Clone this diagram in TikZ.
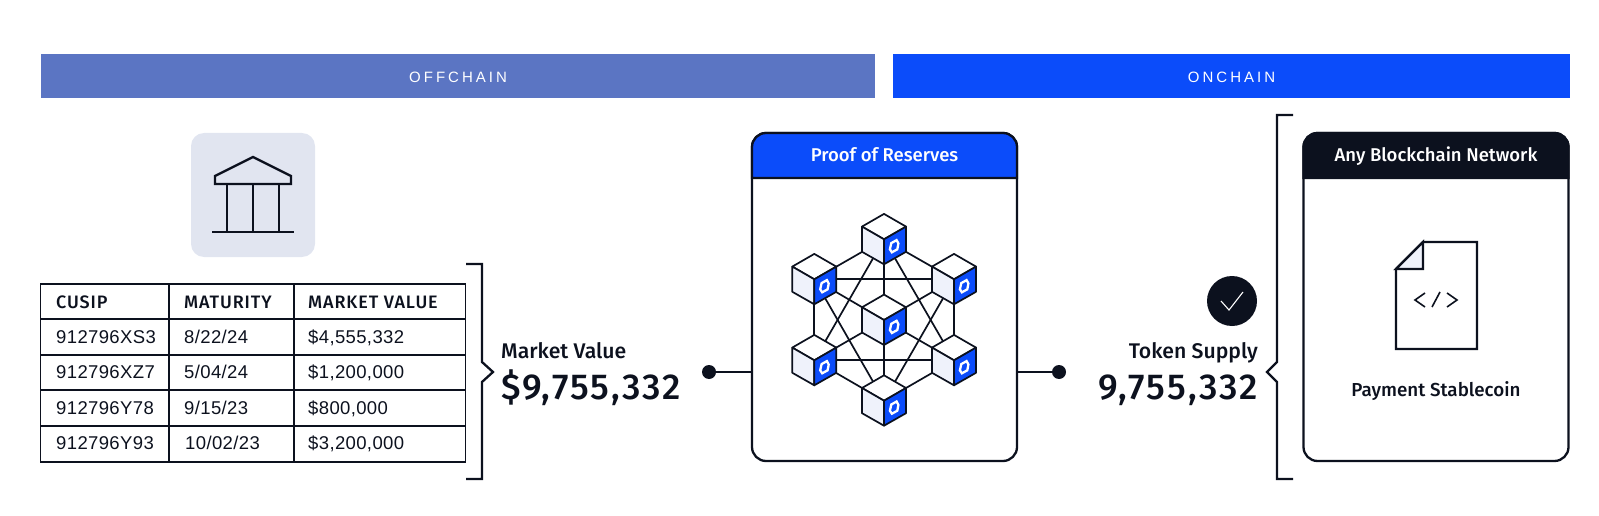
\documentclass[tikz,border=0pt]{standalone}
\usepackage{fontspec}
\setmainfont{Liberation Sans}
\newfontfamily\medfont{Fira Sans Medium}
\newfontfamily\headfont[LetterSpace=5]{Fira Sans Medium}
\newfontfamily\amountfont[LetterSpace=5.5]{Fira Sans Medium}
\newfontfamily\cellfont[LetterSpace=2]{Liberation Sans}
\newfontfamily\barfont[LetterSpace=20]{Liberation Sans}
\definecolor{chainblue}{HTML}{0B4CFA}
\definecolor{inkdark}{HTML}{0C111E}
\definecolor{offblue}{HTML}{5B75C3}
\definecolor{iconbg}{HTML}{E1E5F0}
\definecolor{facepale}{HTML}{EFF2FB}
\tikzset{
  bar/.style      = {rectangle, minimum height=44pt, inner sep=0pt, text height=12.8pt, text depth=0pt, text=white, font=\barfont\fontsize{15}{18}\selectfont},
  cardbox/.style  = {rectangle, line, fill=white, rounded corners=14pt, minimum width=265pt, minimum height=328pt, inner sep=0pt},
  cardhead/.style = {anchor=base, text=white, font=\medfont\fontsize{18.5}{22}\selectfont},
  cell/.style     = {anchor=base west, inner sep=0pt, text=inkdark, font=\cellfont\fontsize{18.5}{22}\selectfont},
  headcell/.style = {anchor=base west, inner sep=0pt, text=inkdark, font=\headfont\fontsize{18}{22}\selectfont},
  caption/.style  = {inner sep=0pt, text=inkdark, font=\medfont\fontsize{21.2}{24}\selectfont},
  amount/.style   = {inner sep=0pt, text=inkdark, font=\amountfont\fontsize{36}{40}\selectfont},
  dot/.style      = {circle, fill=inkdark, minimum size=14pt, inner sep=0pt},
  line/.style     = {draw=inkdark, line width=2.3pt},
  thin/.style     = {draw=inkdark, line width=1.6pt},
  cubeline/.style = {draw=inkdark, line width=1.7pt, line join=round},
}
\newcommand{\blockcube}[1]{
  \begin{scope}[shift={(#1)}]
    \filldraw[cubeline, fill=white] (0,0) -- (-22,-12.7) -- (0,-25.4) -- (22,-12.7) -- cycle;
    \filldraw[cubeline, fill=facepale] (0,0) -- (-22,-12.7) -- (-22,12.5) -- (0,25) -- cycle;
    \filldraw[cubeline, fill=chainblue] (0,0) -- (22,-12.7) -- (22,12.5) -- (0,25) -- cycle;
    \draw[white, line width=2.3pt, line join=miter]
      (12.6,0.8) -- (14.4,4.2) -- (13.3,10) -- (7.9,13) -- (5.9,10) -- (7.3,3.8) -- cycle;
  \end{scope}
}
\begin{document}
\begin{tikzpicture}[x=1pt, y=-1pt]
  \useasboundingbox (0,0) rectangle (1599,516);

  % top bars
  \node [bar, fill=offblue, minimum width=834pt] (offbar) at (458,76) {OFFCHAIN};
  \node [bar, fill=chainblue, minimum width=676.5pt] (onbar) at (1231.5,76) {ONCHAIN};

  % bank icon
  \node [rectangle, fill=iconbg, rounded corners=13pt, minimum size=124pt] (bankbox) at (253,195) {};
  \draw [line, line join=miter] (215,184) -- (215,176) -- (253,157) -- (291,176) -- (291,184) -- cycle;
  \draw [line] (212,232) -- (294,232);
  \foreach \colx in {227,253,279}
    \draw [line] (\colx,184) -- (\colx,232);

  % table
  \draw [thin] (40.5,284) rectangle (465.5,462);
  \foreach \rowy in {319,355,390,426}
    \draw [thin] (40.5,\rowy) -- (465.5,\rowy);
  \foreach \colx in {169,294}
    \draw [thin] (\colx,284) -- (\colx,462);
  \node [headcell] (headcusip) at (56,308) {CUSIP};
  \node [headcell] (headmat) at (184,308) {MATURITY};
  \node [headcell] (headval) at (308,308) {MARKET VALUE};
  \node [cell] (cusipa) at (56,343) {912796XS3};
  \node [cell] (mata)   at (184,343) {8/22/24};
  \node [cell] (vala)   at (308,343) {\$4,555,332};
  \node [cell] (cusipb) at (56,378) {912796XZ7};
  \node [cell] (matb)   at (184,378) {5/04/24};
  \node [cell] (valb)   at (308,378) {\$1,200,000};
  \node [cell] (cusipc) at (56,414) {912796Y78};
  \node [cell] (matc)   at (184,414) {9/15/23};
  \node [cell] (valc)   at (308,414) {\$800,000};
  \node [cell] (cusipd) at (56,449) {912796Y93};
  \node [cell] (matd)   at (185,449) {10/02/23};
  \node [cell] (vald)   at (308,449) {\$3,200,000};

  % left bracket
  \draw [line, line join=miter] (466,264) -- (482,264) -- (482,362) -- (493,372) -- (482,382) -- (482,479) -- (466,479);

  % market value
  \node [caption, anchor=base west] (marketlabel) at (501,358) {Market Value};
  \node [amount, anchor=base west] (marketamount) at (501,399) {\$9,755,332};

  % proof of reserves card
  \node [cardbox] (reservecard) at (884.5,297) {};
  \filldraw [line, fill=chainblue] (752,178) -- (752,147) arc[start angle=180, end angle=270, radius=14] -- (1003,133) arc[start angle=270, end angle=360, radius=14] -- (1017,178) -- cycle;
  \node [cardhead] (reservehead) at (884.5,162) {Proof of Reserves};

  % network
  \coordinate (ctop) at (884,239.3);
  \coordinate (cul)  at (814.3,279.3);
  \coordinate (cur)  at (954,279.3);
  \coordinate (cmid) at (884,320);
  \coordinate (cll)  at (814.3,360.3);
  \coordinate (clr)  at (954,360.3);
  \coordinate (cbot) at (884,400.7);
  \foreach \p/\q in {ctop/cul, ctop/cur, cul/cll, cur/clr, cll/cbot, clr/cbot, ctop/cmid, cbot/cmid, cul/cmid, cur/cmid, cll/cmid, clr/cmid, cul/cur, cll/clr, ctop/cll, ctop/clr, cul/cbot, cur/cbot}
    \draw [cubeline] (\p) -- (\q);
  \foreach \cubename in {ctop, cul, cur, cmid, cll, clr, cbot}
    {\blockcube{\cubename}}

  % connectors
  \node [dot] (dotleft) at (709,372) {};
  \node [dot] (dotright) at (1059,372) {};
  \draw [line] (dotleft) -- (reservecard.west |- dotleft);
  \draw [line] (reservecard.east |- dotright) -- (dotright);

  % token supply
  \node [circle, fill=inkdark, minimum size=50pt, inner sep=0pt] (checkdisc) at (1232,301) {};
  \draw [white, line width=1.1pt] (1221,301) -- (1229,310) -- (1243,292);
  \node [caption, anchor=base east] (tokenlabel) at (1258,358) {Token Supply};
  \node [amount, anchor=base east] (tokenamount) at (1258,399) {9,755,332};

  % right bracket
  \draw [line, line join=miter] (1293,115) -- (1277,115) -- (1277,362) -- (1267,372) -- (1277,382) -- (1277,479) -- (1293,479);

  % network card
  \node [cardbox] (chaincard) at (1436,297) {};
  \filldraw [line, fill=inkdark] (1303.5,178) -- (1303.5,147) arc[start angle=180, end angle=270, radius=14] -- (1554.5,133) arc[start angle=270, end angle=360, radius=14] -- (1568.5,178) -- cycle;
  \node [cardhead] (chainhead) at (1436,162) {Any Blockchain Network};

  % contract document
  \draw [line, line join=miter] (1423,242) -- (1477,242) -- (1477,349) -- (1396,349) -- (1396,269) -- cycle;
  \filldraw [line, fill=facepale, line join=miter] (1423,242) -- (1423,269) -- (1396,269) -- cycle;
  \draw [thin] (1425,293) -- (1415,300) -- (1425,307);
  \draw [thin] (1440,292) -- (1432,307);
  \draw [thin] (1447,293) -- (1457,300) -- (1447,307);
  \node [caption, anchor=base, font=\medfont\fontsize{18.8}{22}\selectfont] (stablelabel) at (1436,396) {Payment Stablecoin};
\end{tikzpicture}
\end{document}
